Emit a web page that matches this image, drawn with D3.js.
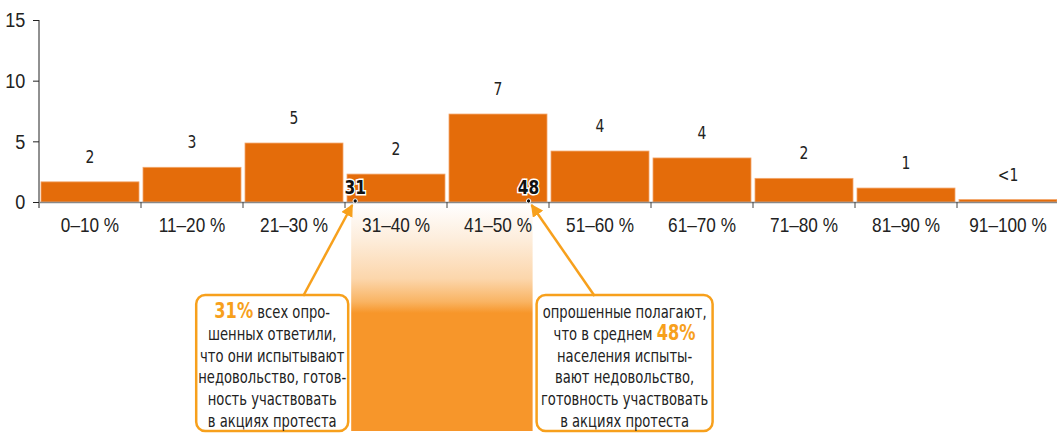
<!DOCTYPE html>
<html>
<head>
<meta charset="utf-8">
<script src="https://cdn.jsdelivr.net/npm/d3@7"></script>
<style>
  body { margin: 0; background: #fff; }
  svg { display: block; font-family: "Liberation Sans Narrow", "DejaVu Sans Condensed", sans-serif; }
</style>
</head>
<body>
<script>
// categories and values
var categories = ['0–10 %', '11–20 %', '21–30 %', '31–40 %', '41–50 %',
                  '51–60 %', '61–70 %', '71–80 %', '81–90 %', '91–100 %'];
var values = [1.66, 2.86, 4.86, 2.3, 7.25, 4.2, 3.63, 1.95, 1.15, 0.2];
var valueLabels = ['2', '3', '5', '2', '7', '4', '4', '2', '1', '<1'];
var yTicks = [0, 5, 10, 15];
var markers = [31, 48];
var leftNote = [[{t: '31%', b: true}, {t: ' всех опро-'}],
                [{t: 'шенных ответили,'}],
                [{t: 'что они испытывают'}],
                [{t: 'недовольство, готов-'}],
                [{t: 'ность участвовать'}],
                [{t: 'в акциях протеста'}]];
var rightNote = [[{t: 'опрошенные полагают,'}],
                 [{t: 'что в среднем '}, {t: '48%', b: true}],
                 [{t: 'населения испыты-'}],
                 [{t: 'вают недовольство,'}],
                 [{t: 'готовность участвовать'}],
                 [{t: 'в акциях протеста'}]];

var W = 1057, H = 434;
var x0 = 39, x1 = 1059, yBase = 202, yTop = 20;
var orange = '#f7a01c';
var narrow = 'scale(0.86,1)';   // the original face is condensed

var svg = d3.select('body').append('svg')
                .attr('width', W)
                .attr('height', H);

var xBand = d3.scaleBand().domain(categories).range([x0, x1]);
var xPct = d3.scaleLinear().domain([0, 100]).range([x0, x1]);
var y = d3.scaleLinear().domain([0, 15]).range([yBase, yTop]);

var defs = svg.append('defs');
var grad = defs.append('linearGradient')
                .attr('id', 'fade')
                .attr('x1', 0).attr('y1', 0).attr('x2', 0).attr('y2', 1);
[[0, '#ffffff'], [0.15, '#fdeedd'], [0.33, '#fcd6ab'], [0.43, '#f9b463'],
 [0.48, '#f7962a'], [1, '#f7962a']].forEach(function(s){
    grad.append('stop').attr('offset', s[0]).attr('stop-color', s[1]);
});
defs.append('marker')
    .attr('id', 'head')
    .attr('viewBox', '0 0 10 10')
    .attr('refX', 9).attr('refY', 5)
    .attr('markerWidth', 5).attr('markerHeight', 5)
    .attr('orient', 'auto')
    .append('path')
    .attr('d', 'M0,0 L10,5 L0,10 Z')
    .attr('fill', orange);

var mx0 = xPct(markers[0]), mx1 = xPct(markers[1]);

// shaded band between the two markers
svg.append('rect')
    .attr('x', mx0 - 4)
    .attr('y', 204)
    .attr('width', mx1 - mx0 + 8)
    .attr('height', 227)
    .attr('fill', 'url(#fade)');

// note boxes
function note(lines, left, right){
    svg.append('rect')
        .attr('x', left)
        .attr('y', 295)
        .attr('width', right - left)
        .attr('height', 136)
        .attr('rx', 9)
        .attr('fill', '#fff')
        .attr('stroke', orange)
        .attr('stroke-width', 2.5);
    var t = svg.append('text')
        .attr('transform', 'translate(' + (left + right) / 2 + ',0) ' + narrow)
        .attr('text-anchor', 'middle')
        .attr('font-size', '17px')
        .attr('fill', '#222');
    lines.forEach(function(parts, i){
        var line = t.append('tspan')
            .attr('x', 0)
            .attr('y', 318 + i * 21.8);
        parts.forEach(function(p){
            var s = line.append('tspan').text(p.t);
            if (p.b) {
                s.attr('font-weight', 'bold')
                 .attr('font-size', '21px')
                 .attr('fill', orange);
            }
        });
    });
}
note(leftNote, mx0 - 159, mx0 - 7);
note(rightNote, mx1 + 8, mx1 + 184);

// bars
svg.selectAll('rect.bar')
    .data(values)
    .enter().append('rect')
    .attr('class', 'bar')
    .attr('x', function(d, i){ return xBand(categories[i]) + 2; })
    .attr('y', function(d){ return y(d); })
    .attr('width', xBand.bandwidth() - 4)
    .attr('height', function(d){ return yBase - y(d); })
    .attr('fill', '#e46c0a')
    .attr('stroke', '#f3a66a')
    .attr('stroke-width', 0.8);

svg.selectAll('text.val')
    .data(values)
    .enter().append('text')
    .attr('class', 'val')
    .attr('transform', function(d, i){
        return 'translate(' + (xBand(categories[i]) + xBand.bandwidth() / 2) + ',' + (y(d) - 19) + ') ' + narrow;
    })
    .attr('text-anchor', 'middle')
    .attr('font-size', '18px')
    .attr('fill', '#222')
    .text(function(d, i){ return valueLabels[i]; });

// axes
var yAxis = svg.append('g')
    .attr('transform', 'translate(' + x0 + ',0)')
    .call(d3.axisLeft(y).tickValues(yTicks).tickSize(6).tickSizeOuter(0));
yAxis.select('.domain').attr('d', 'M0,' + yTop + 'V' + (yBase + 6)).attr('stroke', '#222');
yAxis.selectAll('.tick line').attr('stroke', '#222');
yAxis.selectAll('.tick text')
    .attr('font-size', '21px')
    .attr('font-family', null)
    .attr('fill', '#222')
    .attr('x', -16)
    .attr('transform', narrow);

var xAxis = svg.append('g')
    .attr('transform', 'translate(0,' + yBase + ')')
    .call(d3.axisBottom(xBand).tickSize(0).tickSizeOuter(0));
xAxis.select('.domain').attr('stroke', '#888').attr('stroke-width', 1.5);
xAxis.selectAll('.tick text')
    .attr('font-size', '20px')
    .attr('font-family', null)
    .attr('fill', '#222')
    .attr('y', 16)
    .attr('dy', '0.71em')
    .attr('transform', narrow);
svg.selectAll('line.sep')
    .data(categories.slice(1))
    .enter().append('line')
    .attr('class', 'sep')
    .attr('x1', function(d){ return xBand(d); })
    .attr('x2', function(d){ return xBand(d); })
    .attr('y1', yBase)
    .attr('y2', yBase + 6)
    .attr('stroke', '#444');

// arrows to markers
svg.append('line')
    .attr('x1', mx0 - 52).attr('y1', 296)
    .attr('x2', mx0 - 3).attr('y2', 205)
    .attr('stroke', orange).attr('stroke-width', 2.5)
    .attr('marker-end', 'url(#head)');
svg.append('line')
    .attr('x1', mx1 + 66).attr('y1', 296)
    .attr('x2', mx1 + 3).attr('y2', 205)
    .attr('stroke', orange).attr('stroke-width', 2.5)
    .attr('marker-end', 'url(#head)');

// marker dots and labels
svg.selectAll('circle.mk')
    .data(markers)
    .enter().append('circle')
    .attr('class', 'mk')
    .attr('cx', function(d){ return xPct(d); })
    .attr('cy', yBase - 1)
    .attr('r', 2.2)
    .attr('fill', '#111')
    .attr('stroke', '#fff')
    .attr('stroke-width', 1);
svg.selectAll('text.mk')
    .data(markers)
    .enter().append('text')
    .attr('class', 'mk')
    .attr('transform', function(d){ return 'translate(' + xPct(d) + ',' + (yBase - 8) + ') ' + narrow; })
    .attr('text-anchor', 'middle')
    .attr('font-size', '20px')
    .attr('font-weight', 'bold')
    .attr('fill', '#111')
    .attr('stroke', '#fff')
    .attr('stroke-width', 3)
    .attr('paint-order', 'stroke')
    .text(function(d){ return d; });
</script>
</body>
</html>
